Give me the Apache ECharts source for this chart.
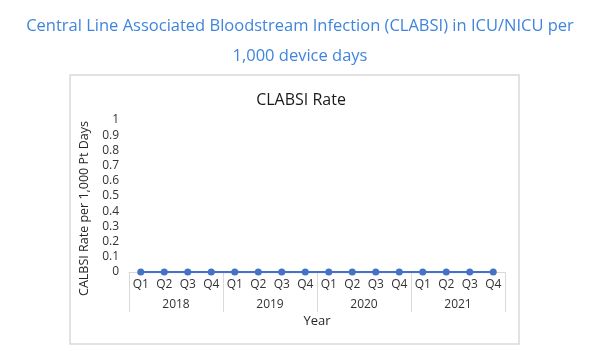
<!DOCTYPE html>
<html><head><meta charset="utf-8">
<script src="https://cdn.jsdelivr.net/npm/echarts@6/dist/echarts.min.js"></script>
<style>html,body{margin:0;padding:0;background:#fff}#c{width:600px;height:358px}</style>
</head><body><div id="c"></div>
<script>
var quarters = ['Q1','Q2','Q3','Q4','Q1','Q2','Q3','Q4','Q1','Q2','Q3','Q4','Q1','Q2','Q3','Q4'];
var years = ['2018','2019','2020','2021'];
var clabsiRate = [0,0,0,0,0,0,0,0,0,0,0,0,0,0,0,0];

var FONT = 'Open Sans, sans-serif';
var chart = echarts.init(document.getElementById('c'));
chart.setOption({
  backgroundColor: '#ffffff',
  animation: false,
  title: [
    {text: 'Central Line Associated Bloodstream Infection (CLABSI) in ICU/NICU per\n1,000 device days',
     left: 'center', top: 6,
     textStyle: {fontFamily: FONT, fontWeight: 'normal', fontSize: 16.5, color: '#3f85dc', lineHeight: 30}},
    {text: 'CLABSI Rate', left: 296, top: 87, textAlign: 'center',
     textStyle: {fontFamily: FONT, fontWeight: 'normal', fontSize: 16, color: '#1a1a1a'}}
  ],
  graphic: [{type: 'rect', shape: {x: 70, y: 75, width: 449, height: 269},
    style: {fill: 'none', stroke: '#d9d9d9', lineWidth: 1.5}, silent: true, z: -1}],
  grid: {left: 129, right: 95, top: 120, bottom: 86},
  xAxis: [
    {type: 'category', data: quarters, position: 'bottom', boundaryGap: true,
     axisLine: {show: true, lineStyle: {color: '#d9d9d9', width: 1}},
     axisTick: {show: false},
     axisLabel: {interval: 0, margin: 7, color: '#333333', fontSize: 12, fontFamily: FONT}},
    {type: 'category', data: years, position: 'bottom', boundaryGap: true,
     axisLine: {show: false},
     axisTick: {show: true, length: 40, lineStyle: {color: '#d9d9d9', width: 1}},
     axisLabel: {interval: 0, margin: 27, color: '#333333', fontSize: 12, fontFamily: FONT},
     name: 'Year', nameLocation: 'middle', nameGap: 43,
     nameTextStyle: {color: '#262626', fontSize: 13, fontFamily: FONT}}
  ],
  yAxis: {type: 'value', min: 0, max: 1, interval: 0.1,
    axisLine: {show: false}, axisTick: {show: false}, splitLine: {show: false},
    axisLabel: {margin: 10, color: '#333333', fontSize: 12, fontFamily: FONT,
      formatter: function (v) { return String(Math.round(v * 10) / 10); }},
    name: 'CALBSI Rate per 1,000 Pt Days', nameLocation: 'middle', nameRotate: 90, nameGap: 32,
    nameTextStyle: {color: '#262626', fontSize: 12.5, fontFamily: FONT, padding: [0, 25, 0, 0]}},
  series: [{type: 'line', xAxisIndex: 0, data: clabsiRate,
    symbol: 'circle', symbolSize: 7,
    lineStyle: {color: '#4472c4', width: 2.25},
    itemStyle: {color: '#4472c4'}}]
});
</script></body></html>
